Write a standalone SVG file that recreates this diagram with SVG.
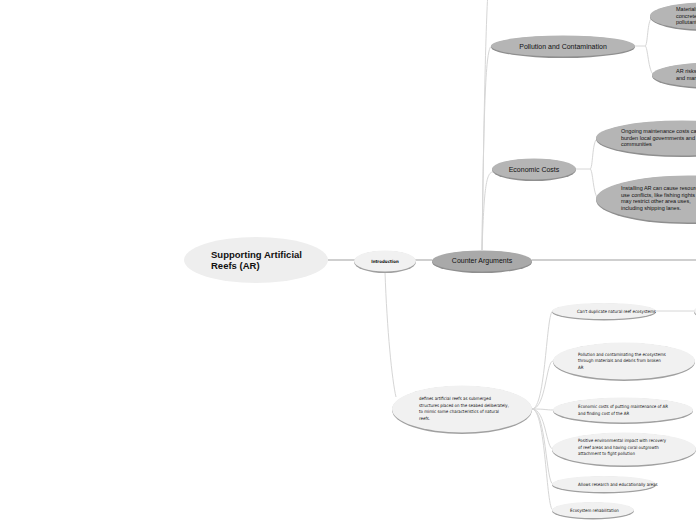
<svg xmlns="http://www.w3.org/2000/svg" width="696" height="520" viewBox="0 0 696 520">
<style>
.bg{fill:#ffffff}
.c{fill:none;stroke:#d6d6d6;stroke-width:1}
.cm{fill:none;stroke:#cfcfcf;stroke-width:2}
.sh{fill:#8f8f8f}
.shl{fill:#a0a0a0}
.root{fill:#eeeeee}
.lt{fill:#f1f1f1}
.dk{fill:#a9a9a9}
.md{fill:#b5b5b5}
.t{font-family:"Liberation Sans",Arial,sans-serif;fill:#111}
.h{font-family:"Liberation Sans Narrow","DejaVu Sans Condensed","Liberation Sans",sans-serif;fill:#111;font-size:4.4px}
</style>
<rect class="bg" x="0" y="0" width="696" height="520"/>
<g id="connectors">
<line class="cm" x1="328" y1="260" x2="355" y2="260"/>
<line class="cm" x1="415" y1="260" x2="432" y2="260"/>
<line class="cm" x1="532" y1="260" x2="696" y2="260"/>
<path class="c" d="M482 250 C485 40 487 -10 490 -30"/>
<path class="c" d="M482 250 C484 90 486 46 492 46"/>
<path class="c" d="M482 250 C484 190 486 172 493 172"/>
<line class="c" x1="635" y1="46" x2="645" y2="46"/>
<path class="c" d="M645 46 C648 46 647 20 652 18"/>
<path class="c" d="M645 46 C648 46 648 72 654 75"/>
<line class="c" x1="576" y1="169" x2="590" y2="169"/>
<path class="c" d="M590 169 C593 169 592 142 597 139"/>
<path class="c" d="M590 169 C593 169 593 195 598 198"/>
<path class="c" d="M385 272 C387 330 392 380 396 397"/>
<path class="c" d="M532 409 C546 409 546 311 553 311"/>
<path class="c" d="M532 409 C546 409 546 361 553 361"/>
<path class="c" d="M532 409 C546 409 546 410 553 410"/>
<path class="c" d="M532 409 C546 409 546 449 553 449"/>
<path class="c" d="M532 409 C546 409 546 484 553 484"/>
<path class="c" d="M532 409 C546 409 546 510 553 510"/>
<line class="c" x1="656" y1="311" x2="694" y2="311"/>
</g>
<g id="node-root">
<ellipse class="root" cx="256" cy="260" rx="72" ry="23"/>
<text class="t" x="211" y="258" font-size="9.5" font-weight="bold">Supporting Artificial</text>
<text class="t" x="211" y="269" font-size="9.5" font-weight="bold">Reefs (AR)</text>
</g>
<g id="node-intro">
<ellipse class="shl" cx="385" cy="262" rx="31" ry="11"/>
<ellipse class="lt" cx="385" cy="261" rx="31" ry="10.5"/>
<text class="h" x="385" y="263" text-anchor="middle" font-size="5.6" font-weight="bold">Introduction</text>
</g>
<g id="node-counter">
<ellipse class="sh" cx="482" cy="262" rx="50" ry="11"/>
<ellipse class="dk" cx="482" cy="261" rx="50" ry="10.5"/>
<text class="t" x="482" y="263" text-anchor="middle" font-size="7">Counter Arguments</text>
</g>
<g id="node-pollution">
<ellipse class="sh" cx="563" cy="47" rx="72" ry="11"/>
<ellipse class="md" cx="563" cy="46" rx="72" ry="10.5"/>
<text class="t" x="563" y="48.5" text-anchor="middle" font-size="7">Pollution and Contamination</text>
</g>
<g id="node-pollution-1">
<ellipse class="sh" cx="706" cy="17" rx="56" ry="14"/>
<ellipse class="md" cx="706" cy="16" rx="56" ry="13.5"/>
<text class="t" x="676" y="11" font-size="5.5">Materials like old</text>
<text class="t" x="676" y="17.5" font-size="5.5">concrete can leach</text>
<text class="t" x="676" y="24" font-size="5.5">pollutants</text>
</g>
<g id="node-pollution-2">
<ellipse class="sh" cx="712" cy="76" rx="60" ry="13"/>
<ellipse class="md" cx="712" cy="75" rx="60" ry="12.5"/>
<text class="t" x="676" y="73" font-size="5.5">AR risks introducing debris</text>
<text class="t" x="676" y="79.5" font-size="5.5">and marine pollution</text>
</g>
<g id="node-economic">
<ellipse class="sh" cx="534" cy="170" rx="42" ry="11"/>
<ellipse class="md" cx="534" cy="169" rx="42" ry="10.5"/>
<text class="t" x="534" y="171.5" text-anchor="middle" font-size="7">Economic Costs</text>
</g>
<g id="node-economic-1">
<ellipse class="sh" cx="682" cy="139" rx="86" ry="18"/>
<ellipse class="md" cx="682" cy="138" rx="86" ry="17.5"/>
<text class="t" x="621" y="133" font-size="5.5">Ongoing maintenance costs can</text>
<text class="t" x="621" y="139.5" font-size="5.5">burden local governments and</text>
<text class="t" x="621" y="146" font-size="5.5">communities</text>
</g>
<g id="node-economic-2">
<ellipse class="sh" cx="688" cy="200" rx="92" ry="24"/>
<ellipse class="md" cx="688" cy="199" rx="92" ry="23.5"/>
<text class="t" x="621" y="190" font-size="5.5">Installing AR can cause resource</text>
<text class="t" x="621" y="196.5" font-size="5.5">use conflicts, like fishing rights</text>
<text class="t" x="621" y="203" font-size="5.5">may restrict other area uses,</text>
<text class="t" x="621" y="209.5" font-size="5.5">including shipping lanes.</text>
</g>
<g id="node-defines">
<ellipse class="shl" cx="462" cy="410" rx="70" ry="24"/>
<ellipse class="lt" cx="462" cy="409" rx="70" ry="23.5"/>
<text class="h" x="419" y="400">defines artificial reefs as submerged</text>
<text class="h" x="419" y="406.5">structures placed on the seabed deliberately,</text>
<text class="h" x="419" y="413">to mimic some characteristics of natural</text>
<text class="h" x="419" y="419.5">reefs.</text>
</g>
<g id="node-list-1">
<ellipse class="shl" cx="604" cy="312" rx="52" ry="8.5"/>
<ellipse class="lt" cx="604" cy="311" rx="52" ry="8"/>
<text class="h" x="577" y="313">Can't duplicate natural reef ecosystems</text>
</g>
<g id="node-list-1a">
<ellipse class="shl" cx="720" cy="312" rx="26" ry="8.5"/>
<ellipse class="lt" cx="720" cy="311" rx="26" ry="8"/>
</g>
<g id="node-list-2">
<ellipse class="shl" cx="624" cy="362" rx="71" ry="19"/>
<ellipse class="lt" cx="624" cy="361" rx="71" ry="18.5"/>
<text class="h" x="578" y="355.5">Pollution and contaminating the ecosystems</text>
<text class="h" x="578" y="362">through materials and debris from broken</text>
<text class="h" x="578" y="368.5">AR</text>
</g>
<g id="node-list-3">
<ellipse class="shl" cx="623" cy="411" rx="70" ry="13"/>
<ellipse class="lt" cx="623" cy="410" rx="70" ry="12.5"/>
<text class="h" x="578" y="408">Economic costs of putting maintenance of AR</text>
<text class="h" x="578" y="414.5">and finding cost of the AR</text>
</g>
<g id="node-list-4">
<ellipse class="shl" cx="624" cy="450" rx="72" ry="17"/>
<ellipse class="lt" cx="624" cy="449" rx="72" ry="16.5"/>
<text class="h" x="578" y="442">Positive environmental impact with recovery</text>
<text class="h" x="578" y="448.5">of reef areas and having coral outgrowth</text>
<text class="h" x="578" y="455">attachment to fight pollution</text>
</g>
<g id="node-list-5">
<ellipse class="shl" cx="604" cy="485" rx="52" ry="8.5"/>
<ellipse class="lt" cx="604" cy="484" rx="52" ry="8"/>
<text class="h" x="578" y="486">Allows research and educationally areas</text>
</g>
<g id="node-list-6">
<ellipse class="shl" cx="593" cy="511" rx="41" ry="8.5"/>
<ellipse class="lt" cx="593" cy="510" rx="41" ry="8"/>
<text class="h" x="570" y="512">Ecosystem rehabilitation</text>
</g>
</svg>
